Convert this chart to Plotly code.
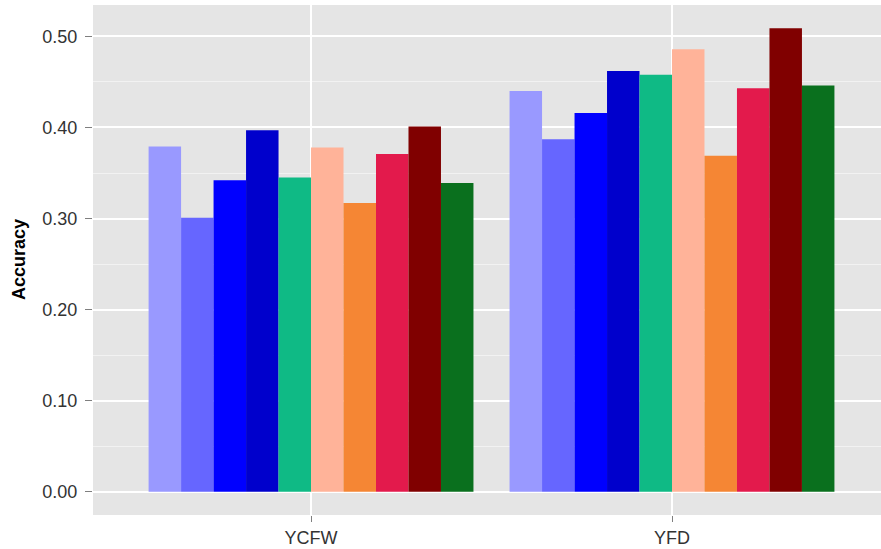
import plotly.graph_objects as go

categories = ["YCFW", "YFD"]
series_names = ["Method 1", "Method 2", "Method 3", "Method 4", "Method 5",
                "Method 6", "Method 7", "Method 8", "Method 9", "Method 10"]
series_colors = ["#9999FF", "#6666FF", "#0000FF", "#0000CC", "#0FBA85",
                 "#FFB399", "#F58634", "#E31A4C", "#800000", "#0A701E"]
ycfw_values = [0.379, 0.301, 0.342, 0.397, 0.345, 0.378, 0.317, 0.371, 0.401, 0.339]
yfd_values = [0.440, 0.387, 0.416, 0.462, 0.458, 0.486, 0.369, 0.443, 0.509, 0.446]
y_tick_vals = [0.0, 0.1, 0.2, 0.3, 0.4, 0.5]
y_tick_text = ["0.00", "0.10", "0.20", "0.30", "0.40", "0.50"]
y_title = "Accuracy"

fig = go.Figure()
for i, name in enumerate(series_names):
    fig.add_trace(go.Bar(
        x=categories,
        y=[ycfw_values[i], yfd_values[i]],
        name=name,
        marker=dict(color=series_colors[i], line=dict(width=0)),
        showlegend=False,
    ))

font_family = "Liberation Sans, Arial, sans-serif"
fig.update_layout(
    width=881, height=549,
    margin=dict(l=93, r=0, t=5, b=34, autoexpand=False),
    paper_bgcolor="white",
    plot_bgcolor="#E5E5E5",
    barmode="group",
    bargap=0.1,
    bargroupgap=0,
    font=dict(family=font_family, size=18, color="#333333"),
    xaxis=dict(
        type="category",
        range=[-0.604, 1.579],
        automargin=False,
        showgrid=True, gridcolor="white", gridwidth=2,
        ticks="outside", ticklen=6, tickcolor="#7F7F7F", tickwidth=1,
        zeroline=False, showline=False,
        tickfont=dict(size=18, color="#333333"),
    ),
    yaxis=dict(
        range=[-0.0255, 0.5345],
        automargin=False,
        tickvals=y_tick_vals, ticktext=y_tick_text,
        showgrid=True, gridcolor="white", gridwidth=2,
        ticks="outside", ticklen=7, tickcolor="#7F7F7F", tickwidth=1,
        ticklabelstandoff=4,
        zeroline=False, showline=False,
        tickfont=dict(size=18, color="#333333"),
        minor=dict(dtick=0.05, tick0=0.05, showgrid=True, gridcolor="#F2F2F2", gridwidth=1),
    ),
    annotations=[dict(
        text="<b>" + y_title + "</b>",
        xref="paper", yref="paper",
        x=-(93 - 19) / 788, y=0.5,
        xanchor="center", yanchor="middle",
        textangle=-90, showarrow=False,
        font=dict(size=18, color="black", family=font_family),
    )],
)

fig.write_html(
    "out.html",
    config={"displayModeBar": False},
    post_script="document.body.style.margin='0';document.body.style.overflow='hidden';"
                "document.documentElement.style.overflow='hidden';",
)
